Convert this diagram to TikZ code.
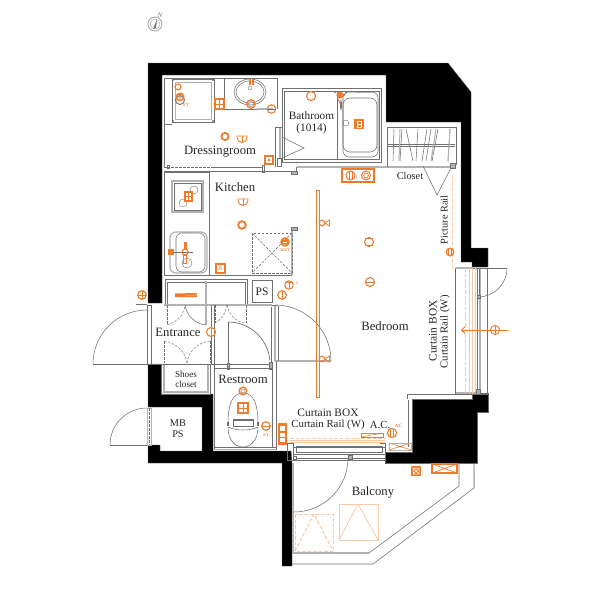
\documentclass[tikz,border=0pt]{standalone}
\usepackage{fontspec}
\usetikzlibrary{arrows.meta}
\setmainfont{Liberation Serif}
\definecolor{og}{HTML}{EF7A2A}
\definecolor{pch}{HTML}{F9C9A4}
\definecolor{ln}{HTML}{707070}
\definecolor{th}{HTML}{B2B2B2}
\newcommand{\ringo}[2]{\draw[og,line width=1.6pt] (#1,#2) circle (3.6);\draw[ln,line width=.4pt] (#1,#2) circle (1.4);}
\newcommand{\hollow}[3]{\draw[og,line width=1.1pt] (#1,#2) circle (#3);}
\newcommand{\halfmoon}[2]{\draw[og,line width=.9pt] (#1+5,#2-1.5) arc[start angle=0,end angle=180,radius=5] -- (#1-5,#2-3) -- (#1+5,#2-3) -- cycle;\draw[og,line width=.7pt] (#1,#2-3) -- (#1,#2+3.5);}
\newcommand{\obox}[4]{\draw[og,line width=1.1pt] (#1,#2) rectangle (#3,#4);}
\newcommand{\bowsym}[2]{\draw[og,line width=1pt] (#1-2.5,#2) circle (2.8);\draw[og,line width=.8pt] (#1,#2) -- (#1+5,#2-3) -- (#1+5,#2+3) -- cycle;}
\tikzset{
  wall/.style={fill=black,draw=black!60,line width=.4pt},
  thin/.style={draw=ln,line width=.55pt},
  hair/.style={draw=ln,line width=.4pt},
  fat/.style={draw=th,line width=1.7pt},
  dsh/.style={draw=ln,line width=.45pt,dash pattern=on 2.5pt off 1.5pt},
  lab/.style={text=black!85,inner sep=0pt,font=\fontsize{12.7}{13}\selectfont},
  sm/.style={text=black!85,inner sep=0pt,font=\fontsize{9.2}{10}\selectfont},
  tiny/.style={text=og,inner sep=0pt,font=\fontsize{4}{4}\selectfont\bfseries},
  ors/.style={draw=og,line width=1pt},
  pl/.style={draw=pch,line width=.8pt},
  pd/.style={draw=pch,line width=1pt,dash pattern=on 3.5pt off 2pt},
}
\begin{document}
\begin{tikzpicture}[x=1pt,y=-1pt]
\useasboundingbox (0,0) rectangle (600,600);
\fill[white] (0,0) rectangle (600,600);
% ---- walls
\path[wall] (148,63) -- (448,63) -- (471,92) -- (471,248) -- (488,248) -- (488,267) -- (472,267) -- (472,262) -- (461,262) -- (461,122) -- (386,122) -- (386,75) -- (162,75) -- (162,303) -- (148,303) -- cycle;
\path[wall] (148,364) -- (161,364) -- (161,394) -- (213,394) -- (213,451) -- (291,451) -- (292,463) -- (292,566) -- (282,566) -- (282,463) -- (148,463) -- (148,445) -- (160,445) -- (160,451) -- (202,451) -- (202,407) -- (148,407) -- cycle;
\path[wall] (412,399) -- (472,399) -- (472,393) -- (488,393) -- (488,412) -- (477,412) -- (477,463) -- (385,463) -- (385,452) -- (412,452) -- cycle;
% ---- compass
\draw[th,line width=1pt] (155,24) circle (7);
\draw[th,line width=.5pt] (155,24) circle (5);
\fill[black!55] (157,19) -- (153,29) -- (156,28) -- cycle;
\node[inner sep=0pt,text=black!55,font=\fontsize{7}{7}\selectfont\itshape] (northmark) at (160,15) {N};
% ---- dressing room
\draw[thin] (277,109) -- (277,78) -- (164,78) -- (164,167);
\draw[thin] (164,124) -- (172,124);
\draw[dsh] (167,167) -- (212,167);
\draw[thin] (164,167) -- (167,167);
\draw[thin,line width=.9pt] (212,167) -- (262,167);
\draw[thin] (164,171) -- (263,171);
\draw[thin] (262,165) rectangle (264,172);
\draw[thin] (167,165) rectangle (169,168);
\draw[thin,line width=1pt] (172,79) rectangle (214,122);
\draw[th,line width=.7pt] (175,82) rectangle (211,119);
\foreach \p/\q in {173/80,213/80,173/121,213/121}{\fill[ln] (\p,\q) circle (1.2);}
\draw[ln,line width=.9pt] (180,100) circle (4.5);
\draw[thin] (224,78) -- (224,109) -- (257,109);
\draw[fat] (257,109) -- (273,109);
\draw[thin] (250,92) ellipse (16 and 13);
\draw[thin] (250,92) ellipse (14 and 11);
\draw[hair] (250,88) circle (2);
% ---- bathroom
\draw[thin] (282,88) rectangle (381,162);
\draw[thin] (284,91) rectangle (379,159);
\draw[thin] (337,91) -- (337,159);
\draw[fat] (280,127) -- (280,158);
\draw[thin] (275,127) -- (275,167);
\draw[thin] (275,127) -- (282,127);
\draw[thin] (282,137) -- (304,148) -- (282,158);
\draw[thin] (277,158) rectangle (281,166);
\draw[thin,rounded corners=6pt] (343,92) rectangle (378,157);
\draw[thin,rounded corners=7pt] (343,98) rectangle (377,152);
\draw[th,line width=1pt] (356,92) -- (372,92);
\draw[hair] (346,123) circle (3);
\draw[th,line width=1.2pt] (341,100) -- (341,110);
\foreach \p/\q in {335/92,346/92,338/95,344/95}{\draw[hair] (\p,\q) circle (1.2);}
\fill[ln] (340,102) rectangle (342,108);
% ---- wall strip below bathroom and closet
\draw[thin] (263,171) -- (296,171);
\draw[thin] (296,167) -- (296,171);
\draw[th,line width=2.2pt] (297,167) -- (453,167);
\draw[thin,fill=th] (291,171) rectangle (297,174);
% ---- closet
\draw[thin] (387,127) -- (456,127) -- (456,165);
\draw[thin] (387,127) -- (387,167);
\draw[thin] (388,144.5) -- (455,144.5);
\draw[thin] (388,146) -- (455,146);
\foreach \a/\b in {394/393,402/400,406/413,418/416,427/422,431/426,438/432,450/448}{\draw[ln,line width=.55pt] (\a,129) -- (\b,161);}
\draw[th,line width=1pt] (400,129) -- (399,161);\draw[th,line width=1pt] (436,129) -- (431,161);\draw[th,line width=1pt] (450,129) -- (448,161);
\draw[thin] (423,166) -- (437,195) -- (452,166);
\draw[thin,fill=th] (450,163) rectangle (455,168);
% ---- kitchen
\draw[thin] (164,275) -- (164,172) -- (209,172) -- (209,275);
\draw[thin] (164,275) -- (292,275);
\draw[fat] (292,230) -- (292,275);
\draw[thin,fill=th] (291,227) rectangle (297,230);
\draw[th,line width=1.4pt] (172,181) rectangle (203,212);
\draw[thin] (174,183) rectangle (201,210);
\draw[hair] (194,190) circle (4);
\draw[hair] (183,203) circle (4);
\draw[th,line width=1.2pt,rounded corners=6pt] (170,232) rectangle (207,273);
\draw[thin,rounded corners=6pt] (176,233) rectangle (205,272);
\draw[ln,line width=1pt] (173,252) -- (193,252);
\draw[hair] (187,263) circle (5);
\draw[dsh] (252,233) rectangle (292,273);
\draw[dsh] (252,233) -- (292,273);
\draw[dsh] (292,233) -- (252,273);
% ---- shelf and PS
\draw[thin] (165,279) -- (247,279) -- (247,305);
\draw[thin] (165,279) -- (165,305);
\draw[thin] (167,282) -- (245,282) -- (245,304);
\draw[thin] (167,282) -- (167,304);
\draw[th,line width=1.8pt] (164,305) -- (272,305);
\draw[th,line width=1.4pt] (206,281) -- (206,325);
\draw[thin] (252,280) rectangle (272,302);
% ---- entrance
\draw[thin] (147,305) -- (147,364);
\draw[thin] (151,305) -- (151,364);
\draw[thin] (147,305) -- (151,305);
\draw[thin] (136,304) -- (147,304);
\draw[thin] (93,364) -- (160,364);
\draw[thin] (93,364) arc[start angle=180,end angle=270,radius=54];
\draw[thin] (160,364) -- (272,364);
\draw[thin] (211,305) -- (211,364);
\draw[thin] (214,305) -- (214,368);
\draw[thin] (228,322) -- (228,366);
\draw[thin,line width=.7pt] (228,322) arc[start angle=-90,end angle=-5,radius=42];
\draw[thin,fill=th] (227,363) rectangle (229,369);
\draw[thin,fill=th] (269,362) rectangle (272,369);
% folding doors
\draw[dsh] (167,305) -- (167,325);
\draw[dsh] (167,325) .. controls (177,322) and (184,315) .. (185,305);
\draw[thin] (185,305) .. controls (187,317) and (196,324) .. (206,325);
\draw[dsh] (215,305) -- (215,323);
\draw[dsh] (215,323) .. controls (221,320) and (226,313) .. (227,305);
\draw[dsh] (227,305) .. controls (229,316) and (237,322) .. (245,323);
\draw[dsh] (246,305) -- (246,323);
\draw[dsh] (164,341) -- (164,363);
\draw[dsh] (164,341) .. controls (175,342) and (186,352) .. (187,363);
\draw[dsh] (210,341) .. controls (198,342) and (188,352) .. (187,363);
\draw[dsh] (210,341) -- (210,363);
% shoes closet
\draw[thin] (161,364) -- (161,394) -- (210,394) -- (210,364);
\draw[th,line width=1.6pt] (164,365) -- (164,392) -- (208,392) -- (208,365);
% ---- big door
\draw[th,line width=2.2pt] (275,306) -- (275,361);
\draw[thin] (272,305) -- (278,305);
\draw[thin] (275,305) arc[start angle=-90,end angle=0,radius=56];
\draw[th,line width=1.3pt] (275,361) -- (331,361);
\draw[thin] (271,307) -- (271,363);
\draw[thin] (278,306) -- (278,361);
% ---- restroom
\draw[thin] (214,368) -- (272,368) -- (272,448);
\draw[thin] (214,368) -- (214,450);
\draw[thin] (214,447) -- (276,447);
\draw[th,line width=1.2pt] (214,449.5) -- (276,449.5);
\draw[thin] (276,361) -- (276,450);
\draw[thin] (228,423) .. controls (228,405) and (232,393) .. (243,393) .. controls (254,393) and (258,405) .. (258,423);
\draw[thin] (228,427) .. controls (228,440) and (235,447) .. (243,447) .. controls (251,447) and (258,440) .. (258,427);
\draw[thin] (228,427) .. controls (236,431) and (250,431) .. (258,427);
\draw[thin] (233,419) rectangle (253,426);
\draw[ln,line width=1.3pt] (228,422) -- (228,426);\draw[ln,line width=1.3pt] (258,422) -- (258,426);
\draw[ln,line width=1.6pt] (233,419.8) -- (253,419.8);
% ---- MB door
\draw[thin] (110,445) -- (147,445);
\draw[thin] (110,445) arc[start angle=180,end angle=270,radius=37];
\draw[th,line width=.6pt] (147,408) rectangle (151,445);
\draw[dsh] (149,408) -- (149,445);
% ---- bedroom edges / curtain window
\draw[thin] (408,400) -- (408,447) ;
\draw[thin] (407,394) -- (407,399);
\draw[thin] (407,394.5) -- (455,394.5);
\draw[thin] (455,268) rectangle (487,394);
\draw[th,line width=1.6pt] (480,268) -- (480,394);
\draw[thin] (477,268) -- (477,394);
\draw[th,line width=2pt] (456,268) -- (473,268);
\draw[th,line width=1.2pt] (456,393) -- (476,393);
\draw[thin,fill=th] (476,389) rectangle (480,394);
\draw[pd,line width=.8pt] (465,268) -- (465,394);
\draw[pl,line width=.7pt] (469,268) -- (469,394);
\draw[pl,line width=.7pt] (472,268) -- (472,394);
\draw[pl,line width=.7pt] (475.5,268) -- (475.5,392);
\draw[ln,line width=1pt] (479,269) -- (479,297);
\draw[thin] (478,268) -- (507,268);
\draw[thin] (507,268) arc[start angle=0,end angle=90,radius=29];
\draw[thin,fill=th] (477,295) rectangle (480,298);
% ---- balcony
\draw[thin] (293,447) rectangle (385,460);
\draw[thin] (296,446) rectangle (382,452);
\draw[thin] (293,454) -- (385,454);
\draw[thin] (293,458) -- (385,458);
\draw[thin] (380,443) -- (385,443) -- (385,460);
\draw[thin] (287,443) rectangle (293,460);
\draw[thin,fill=white] (293,456.5) rectangle (296,459);
\draw[thin,fill=th] (348,455) rectangle (352,459);
\draw[thin] (348,458) arc[start angle=0,end angle=90,radius=54];
\draw[fat] (293,463) -- (293,553) -- (369,553);
\draw[thin] (369,553) -- (459,486) -- (459,463);
\draw[thin] (292,564) -- (373,564) -- (474,488) -- (474,463);
\draw[th,line width=1pt] (474,470) -- (474,488);
% ---- orange equipment
\ringo{180}{97}
\hollow{178}{87}{3}
\fill[og] (178.5,93) rectangle (181,96);
\draw[og,line width=.7pt] (179,93) -- (183,93);
\node[tiny] (etwash) at (186,105) {ET};
\obox{215}{99}{224}{109}
\draw[og,line width=.8pt] (215,104) -- (224,104) (219.5,99) -- (219.5,109);
\fill[og] (248.5,79) rectangle (253.5,85);
\draw[white,line width=.7pt] (251,79) -- (251,85);
\draw[og,line width=1.3pt] (251,104) circle (4.2);
\draw[hair] (251,104) circle (2.5);
\draw[og,line width=1.1pt] (271.5,109) circle (4.2);
\draw[ln,line width=.5pt] (267.5,109) -- (275.5,109);
\draw[og,line width=1.8pt] (225,136.5) circle (3.6);
\halfmoon{242}{139}
\obox{265}{156}{273}{164}
\fill[og] (269,160) circle (1.5);
\hollow{311}{96}{4.5}
\fill[og] (338,92) rectangle (342,98);
\draw[og,line width=1pt] (340,95) circle (3);
\draw[og,line width=1pt] (338,99) -- (341,105);
\fill[og] (354,119) rectangle (364,129);
\draw[white,line width=.5pt] (357,121) rectangle (361,127);
\draw[white,line width=.5pt] (357,124) -- (361,124);
\obox{342}{169}{374}{182}
\draw[og,line width=1pt] (350.5,175.5) circle (4.5);
\draw[og,line width=.7pt] (349,171) -- (349,180) (352,171) -- (352,180);
\node[tiny] (twotop) at (356.5,178) {2};
\draw[og,line width=1pt] (366,175.5) circle (4.5);
\draw[og,line width=.7pt] (366,175.5) circle (2.4);
\draw[og,line width=.9pt] (316.5,190) rectangle (319.5,397);
\bowsym{324.5}{223}
\bowsym{324.5}{359}
\hollow{369}{242}{4.5}
\draw[og,line width=.8pt] (365,238.5) -- (373,238.5) (365,245.5) -- (373,245.5);
\hollow{370}{282}{4.5}
\draw[og,line width=.8pt] (366,282) -- (374,282);
\halfmoon{243}{202}
\draw[og,line width=1.8pt] (242,225) circle (3.8);
\obox{185}{192}{192}{201}
\draw[og,line width=.8pt] (188.5,192) -- (188.5,201) (185,196.5) -- (192,196.5);
\fill[og] (183.5,242) -- (186.5,242) -- (186.5,249) -- (183.5,249) -- cycle;
\draw[og,line width=.8pt] (183.5,255) rectangle (186.5,263);
\hollow{185}{252}{3}
\fill[og] (168,249) rectangle (174,255);
\obox{216}{264}{225}{273}
\node[inner sep=0pt,text=og,font=\fontsize{7}{7}\selectfont] (rmark) at (220.5,268.5) {R};
\draw[og,line width=1.8pt] (285,242) circle (3.8);
\fill[og] (282,240) rectangle (288,244);
\draw[white,line width=.5pt] (283,242) -- (287,242);
\node[tiny] (seat) at (285,250) {3EET};
\fill[og] (175,293.5) -- (197,293) -- (197,297) -- (175,297) -- cycle;
\fill[white] (185,296) -- (197,294.5) -- (197,295) -- (185,296) -- cycle;
\draw[og,line width=1pt] (289,285) circle (4.2);
\draw[og,line width=.7pt] (285,282.5) -- (293,282.5) (289,282.5) -- (289,289);
\node[tiny] (two) at (297,283) {2};
\hollow{282}{295}{4.3}
\draw[og,line width=.7pt] (282,291) -- (282,299);
\hollow{211}{332}{4.5}
\draw[og,line width=.7pt] (211,328) -- (211,336);
\draw[og,line width=1.2pt] (142,295) circle (4.3);
\draw[og,line width=.7pt] (138,295) -- (146,295) (142,291) -- (142,299);
\draw[og,line width=1.4pt] (243,391) circle (3.8);
\draw[hair] (243,391) circle (2);
\obox{238}{403}{248}{413}
\draw[og,line width=.7pt] (238,408) -- (248,408) (243,403) -- (243,413);
\draw[og,line width=1.2pt] (266,426) circle (4.3);
\draw[og,line width=.8pt] (262,426) -- (270,426);
\node[tiny] (etrest) at (266,435) {ET};
\fill[og] (278,423) rectangle (287,445);
\fill[white] (280,426) rectangle (285,431);
\fill[white] (280,433) rectangle (285,442);
\draw[og,line width=.5pt] (280,437) -- (285,437);
% balcony orange
\fill[og] (411,466) rectangle (421,476);
\draw[white,line width=.5pt] (413,468) rectangle (419,474) (413,468) -- (419,474) (419,468) -- (413,474);
\obox{432}{464}{457}{473}
\draw[og,line width=.7pt] (432,464) -- (457,473) (457,464) -- (432,473);
\draw[ln,line width=.4pt] (389,443) rectangle (411,450);
\draw[og,line width=.6pt] (389,443) -- (411,450) (411,443) -- (389,450);
\draw[th,line width=.9pt] (389,443) rectangle (411,450);
\draw[pl] (339,504) rectangle (378,540);
\draw[pl] (339,540) -- (358,504) -- (378,540);
\draw[pd] (295,514) rectangle (333,551);
\draw[pd] (295,551) -- (314,514) -- (333,551);
\draw[pd,line width=.9pt] (290,438) -- (385,438);
\draw[pl] (290,442) -- (385,442);
\draw[pl] (290,440) -- (385,440);
\draw[ors,line width=.9pt] (361,433) rectangle (383,437);
\draw[og,line width=.5pt] (361,437) -- (383,433);
\draw[og,line width=1.1pt] (392,433) circle (4.6);
\draw[og,line width=.7pt] (390.5,429) -- (390.5,437) (393.5,429) -- (393.5,437);
\node[tiny,font=\fontsize{5}{5}\selectfont\bfseries\itshape] (acmark) at (398.5,426) {AC};
% picture rail
\draw[pch,line width=.8pt,dash pattern=on 4pt off 2pt] (452,175) -- (452,270);
\draw[og,line width=1.3pt] (450,252) circle (3.8);
\draw[og,line width=.7pt] (448.5,248) -- (448.5,256) (451.5,248) -- (451.5,256);
% window arrow
\draw[og,line width=.9pt,-{Straight Barb[length=3.5pt,width=7pt]}] (508,330) -- (461,330);
\draw[og,line width=.9pt] (495,330) circle (4.6);
\draw[og,line width=.7pt] (495,325.5) -- (495,334.5) (490.5,330) -- (499.5,330);
% ---- texts
\node[lab] (tdress) at (220,152) {Dressingroom};
\node[lab] (tkit) at (235,187) {Kitchen};
\node[lab,font=\fontsize{11.3}{12}\selectfont] (tbath) at (311.5,115.5) {Bathroom};
\node[lab,font=\fontsize{11.3}{12}\selectfont] (tnum) at (311.5,129) {(1014)};
\node[lab] (tent) at (178,332.5) {Entrance};
\node[lab] (trest) at (243,379) {Restroom};
\node[lab] (tbed) at (385,326) {Bedroom};
\node[lab] (tbal) at (373,492) {Balcony};
\node[lab,font=\fontsize{11.5}{12}\selectfont] (tps) at (262,292) {PS};
\node[sm] (tshoes) at (186,374) {Shoes};
\node[sm] (tcl) at (186,384) {closet};
\node[lab,font=\fontsize{10.3}{11}\selectfont] (tmb) at (178,423) {MB};
\node[lab,font=\fontsize{10.3}{11}\selectfont] (tmps) at (178,434) {PS};
\node[lab,font=\fontsize{10.3}{11}\selectfont] (tclo) at (410,176) {Closet};
\node[lab,font=\fontsize{10.3}{11}\selectfont,rotate=90] (tpic) at (444,220) {Picture Rail};
\node[lab,font=\fontsize{11.4}{12}\selectfont,rotate=90] (tcb) at (433,331) {Curtain BOX};
\node[lab,font=\fontsize{10.8}{11}\selectfont,rotate=90] (tcr) at (445,332) {Curtain Rail (W)};
\node[lab,font=\fontsize{11.4}{12}\selectfont] (tcb2) at (328,413) {Curtain BOX};
\node[lab,font=\fontsize{10.8}{11}\selectfont] (tcr2) at (328,424.5) {Curtain Rail (W)};
\node[lab,font=\fontsize{10.8}{11}\selectfont] (tac) at (380,424.5) {A.C.};
\end{tikzpicture}
\end{document}
